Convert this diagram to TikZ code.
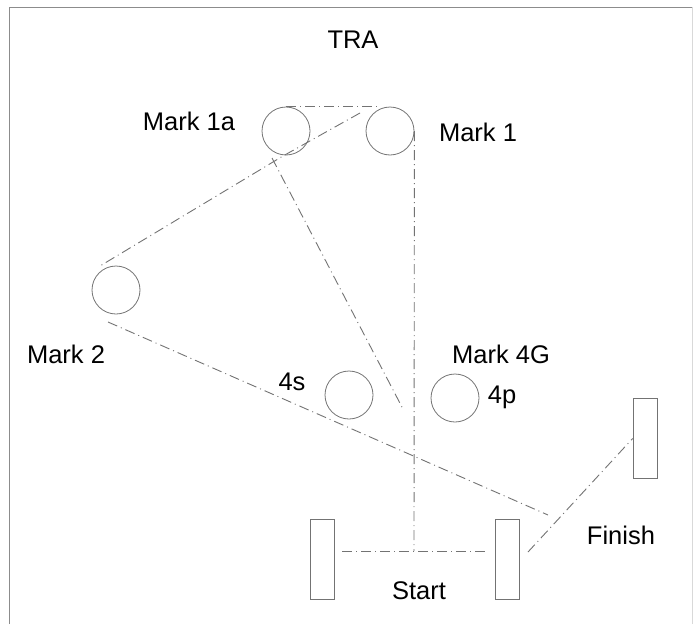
\documentclass[tikz,border=0pt]{standalone}
\usepackage{fontspec}
\setmainfont{Liberation Sans}
\begin{document}
\begin{tikzpicture}[x=1pt,y=-1pt,
  markc/.style={circle,draw=black!55,line width=0.8pt,minimum size=48pt,inner sep=0pt},
  gate/.style={rectangle,draw=black!55,line width=0.8pt,minimum width=24pt,minimum height=80pt,inner sep=0pt},
  lbl/.style={font=\fontsize{25.5}{28}\selectfont,inner sep=0pt,text=black},
  route/.style={draw=black!55,line width=0.9pt,dash pattern=on 10pt off 4pt on 1pt off 4pt},
  frameline/.style={draw=black!45,line width=1pt}]
\useasboundingbox (0,0) rectangle (693,624);
\draw[frameline] (9,624) -- (9,7) -- (693,7);
\draw[draw=black!15,line width=0.6pt] (692,7) -- (692,624);
% marks
\node[markc] (m1a) at (286,131) {};
\node[markc] (m1) at (390,131) {};
\node[markc] (m2) at (116,290) {};
\node[markc] (m4s) at (349,395) {};
\node[markc] (m4p) at (455,398) {};
% gates
\node[gate] (sl) at (322,559) {};
\node[gate] (sr) at (507.5,559) {};
\node[gate] (fin) at (645,438.5) {};
% labels
\node[lbl] (tTRA) at (353,40) {TRA};
\node[lbl] (t1a) at (189,121) {Mark 1a};
\node[lbl] (t1) at (478,132) {Mark 1};
\node[lbl] (t2) at (66,354) {Mark 2};
\node[lbl] (t4g) at (501,354) {Mark 4G};
\node[lbl] (t4s) at (292,382) {4s};
\node[lbl] (t4p) at (502,397) {4p};
\node[lbl] (tstart) at (419,591) {Start};
\node[lbl] (tfin) at (621,535) {Finish};
% free ends
\coordinate (a1) at (360,113);
\coordinate (b1) at (283,156);
\coordinate (c1) at (100,266);
\coordinate (d1) at (272,158);
\coordinate (d2) at (403,409);
\coordinate (v1) at (414,551);
\coordinate (e1) at (108,322);
\coordinate (e2) at (548,515);
\coordinate (f1) at (528,552);
% routes
\draw[route] (m1a.north) -- ([xshift=-10pt]m1.north);
\draw[route] (a1) -- (b1) -- (c1);
\draw[route] (d1) -- (d2);
\draw[route] (m1.east) -- (v1);
\draw[route,shorten <=8pt,shorten >=7pt] (sl.east |- v1) -- (sr.west |- v1);
\draw[route] (e1) -- (e2);
\draw[route] (f1) -- (fin.west);
\end{tikzpicture}
\end{document}
